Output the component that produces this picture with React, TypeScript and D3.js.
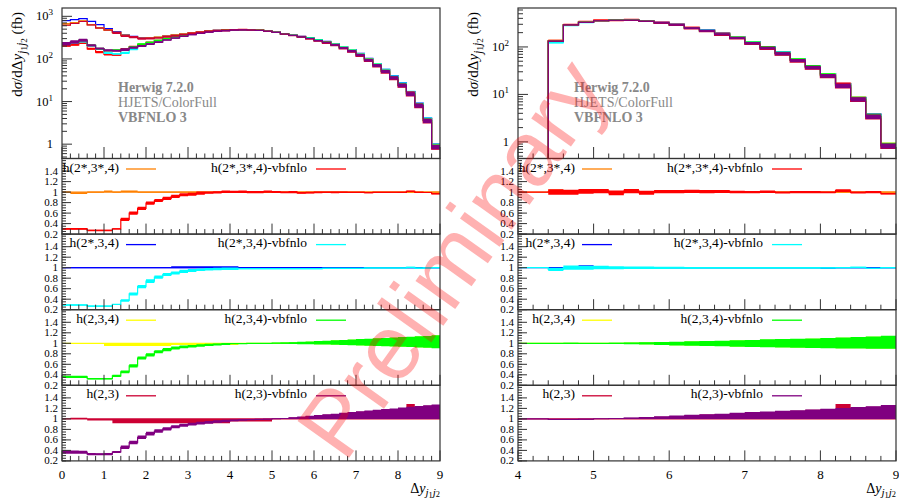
import React from 'react'
import * as d3 from 'd3'

// ---------- bin edges (Δy j1j2) ----------
const L_EDGES = [0, 0.2, 0.4, 0.6, 0.8, 1, 1.2, 1.4, 1.6, 1.8, 2, 2.2, 2.4, 2.6, 2.8, 3, 3.2, 3.4, 3.6, 3.8, 4, 4.2, 4.4, 4.6, 4.8, 5, 5.2, 5.4, 5.6, 5.8, 6, 6.2, 6.4, 6.6, 6.8, 7, 7.2, 7.4, 7.6, 7.8, 8, 8.2, 8.4, 8.6, 8.8, 9]
const R_EDGES = [4, 4.4, 4.6, 4.8, 5, 5.2, 5.4, 5.6, 5.8, 6, 6.2, 6.4, 6.6, 6.8, 7, 7.2, 7.4, 7.6, 7.8, 8, 8.2, 8.4, 8.6, 8.8, 9]

// ---------- left column: main histograms (fb) ----------
const L_MAIN_ORANGE = [674, 711, 785, 640, 535, 470, 410, 352, 325, 308, 310, 322, 342, 363, 384, 410, 432, 453, 467, 478, 486, 489, 484, 475, 455, 425, 392, 362, 340, 312, 282, 256, 225, 193, 164, 133, 101, 77, 56, 39.5, 26.6, 16.8, 9.0, 4.0, 1.0]
const L_MAIN_BLUE = [791, 836, 883, 763, 638, 514, 440, 371, 339, 316, 312, 322, 342, 363, 384, 410, 432, 453, 467, 478, 486, 489, 484, 475, 455, 428, 394, 364, 341, 314, 284, 257, 226, 195, 166, 135, 103, 78, 57, 40, 27.3, 17.2, 9.2, 4.1, 1.0]
const L_MAIN_YELLOW = [625, 688, 760, 638, 538, 485, 422, 360, 336, 310, 312, 324, 344, 365, 386, 413, 435, 456, 469, 480, 488, 490, 484, 474, 452, 421, 386, 356, 330, 302, 270, 244, 215, 182, 153, 123, 94, 70.5, 50.5, 35.8, 23.9, 14.9, 8.0, 3.5, 0.85]
const L_MAIN_CRIMSON = [619, 682, 758, 633, 535, 480, 420, 359, 335, 309, 311, 323, 343, 364, 385, 412, 434, 455, 468, 479, 487, 489, 483, 473, 451, 419, 382, 350, 323, 293, 260, 233, 204, 172, 144, 115, 87, 65, 46.6, 32.7, 21.7, 13.5, 7.2, 3.15, 0.76]

// ---------- left column: ratio bands (low / high) ----------
const L_ORANGE_LO = [0.99, 0.965, 0.965, 0.99, 0.99, 1.0, 0.99, 1.0, 1.0, 0.99, 0.99, 0.99, 0.99, 0.99, 0.99, 0.99, 0.99, 0.99, 0.99, 0.99, 0.99, 0.99, 0.99, 0.99, 0.99, 0.99, 0.99, 0.99, 0.99, 0.99, 0.99, 0.99, 0.99, 0.99, 0.99, 0.99, 0.99, 0.99, 0.99, 0.99, 0.99, 0.99, 0.99, 0.99, 0.99]
const L_ORANGE_HI = [1.01, 0.995, 0.995, 1.01, 1.01, 1.03, 1.01, 1.03, 1.03, 1.01, 1.01, 1.01, 1.01, 1.01, 1.01, 1.01, 1.01, 1.01, 1.01, 1.01, 1.01, 1.01, 1.01, 1.01, 1.01, 1.01, 1.01, 1.01, 1.01, 1.01, 1.01, 1.01, 1.01, 1.01, 1.01, 1.01, 1.01, 1.01, 1.01, 1.01, 1.01, 1.01, 1.01, 1.01, 1.01]
const L_RED_LO = [0.285, 0.285, 0.285, 0.255, 0.255, 0.255, 0.29, 0.45, 0.57, 0.66, 0.76, 0.81, 0.85, 0.89, 0.92, 0.93, 0.95, 0.97, 0.975, 0.985, 0.985, 0.985, 0.98, 0.98, 0.99, 0.985, 0.98, 0.98, 0.97, 0.975, 0.98, 0.985, 0.98, 0.985, 0.985, 0.985, 0.98, 0.985, 0.985, 0.99, 0.985, 1.0, 0.985, 0.985, 0.955]
const L_RED_HI = [0.315, 0.315, 0.315, 0.285, 0.285, 0.285, 0.31, 0.51, 0.63, 0.72, 0.82, 0.87, 0.91, 0.95, 0.98, 0.99, 1.01, 1.01, 1.015, 1.03, 1.025, 1.03, 1.02, 1.02, 1.03, 1.02, 1.01, 1.02, 1.0, 1.005, 1.01, 1.01, 1.01, 1.01, 1.005, 1.005, 1.0, 1.005, 1.005, 1.005, 1.005, 1.03, 1.005, 1.0, 0.985]
const L_BLUE_LO = [0.99, 0.99, 0.99, 0.99, 0.99, 0.99, 0.99, 0.99, 0.99, 0.99, 0.99, 0.99, 0.99, 0.99, 0.99, 0.99, 0.99, 0.99, 0.99, 0.99, 0.99, 0.99, 0.99, 0.99, 0.99, 0.99, 0.99, 0.99, 0.99, 0.99, 0.99, 0.99, 0.99, 0.99, 0.99, 0.99, 0.99, 0.99, 0.99, 0.99, 0.99, 0.99, 0.99, 0.99, 0.99]
const L_BLUE_HI = [1.01, 1.01, 1.01, 1.01, 1.01, 1.01, 1.01, 1.01, 1.01, 1.01, 1.01, 1.01, 1.01, 1.03, 1.03, 1.03, 1.03, 1.03, 1.03, 1.03, 1.03, 1.01, 1.01, 1.01, 1.01, 1.01, 1.01, 1.01, 1.01, 1.01, 1.01, 1.01, 1.01, 1.01, 1.01, 1.01, 1.01, 1.01, 1.01, 1.01, 1.01, 1.01, 1.01, 1.01, 1.01]
const L_CYAN_LO = [0.275, 0.275, 0.275, 0.255, 0.255, 0.255, 0.29, 0.35, 0.47, 0.61, 0.71, 0.79, 0.84, 0.87, 0.9, 0.92, 0.935, 0.945, 0.95, 0.955, 0.955, 0.97, 0.97, 0.97, 0.97, 0.97, 0.97, 0.97, 0.97, 0.97, 0.97, 0.975, 0.975, 0.975, 0.975, 0.975, 0.985, 0.985, 0.985, 0.985, 0.985, 0.99, 0.98, 0.985, 0.99]
const L_CYAN_HI = [0.305, 0.305, 0.305, 0.28, 0.28, 0.28, 0.31, 0.4, 0.53, 0.67, 0.78, 0.85, 0.9, 0.93, 0.96, 0.975, 0.985, 0.995, 1.0, 1.005, 1.005, 0.995, 0.995, 0.995, 0.995, 0.995, 0.995, 0.995, 0.995, 0.995, 0.995, 1.0, 1.0, 1.0, 1.0, 1.0, 1.005, 1.005, 1.005, 1.005, 1.005, 1.02, 1.005, 1.01, 1.015]
const L_YELLOW_LO = [0.995, 0.995, 0.995, 0.995, 0.995, 0.95, 0.95, 0.95, 0.95, 0.95, 0.95, 0.95, 0.95, 0.97, 0.97, 0.97, 0.97, 0.97, 0.97, 0.97, 0.97, 0.985, 0.985, 0.985, 0.985, 1.0, 0.995, 0.992, 0.989, 0.986, 0.983, 0.98, 0.977, 0.973, 0.969, 0.965, 0.96, 0.955, 0.95, 0.945, 0.94, 0.933, 0.927, 0.92, 0.912]
const L_YELLOW_HI = [1.005, 1.005, 1.005, 1.005, 1.005, 1.0, 1.0, 1.0, 1.0, 1.0, 1.0, 1.0, 1.0, 1.0, 1.0, 1.0, 1.0, 1.0, 1.0, 1.0, 1.0, 1.0, 1.0, 1.0, 1.0, 1.005, 1.01, 1.015, 1.023, 1.03, 1.037, 1.045, 1.052, 1.06, 1.067, 1.075, 1.082, 1.09, 1.097, 1.105, 1.113, 1.12, 1.128, 1.135, 1.15]
const L_GREEN_LO = [0.34, 0.34, 0.34, 0.31, 0.31, 0.31, 0.36, 0.43, 0.54, 0.69, 0.75, 0.81, 0.85, 0.88, 0.905, 0.92, 0.935, 0.948, 0.958, 0.968, 0.985, 0.99, 0.995, 0.995, 0.997, 0.995, 0.99, 0.987, 0.984, 0.981, 0.978, 0.975, 0.972, 0.968, 0.964, 0.96, 0.955, 0.95, 0.945, 0.94, 0.935, 0.928, 0.922, 0.915, 0.907]
const L_GREEN_HI = [0.38, 0.38, 0.38, 0.34, 0.34, 0.34, 0.4, 0.48, 0.6, 0.75, 0.81, 0.87, 0.91, 0.94, 0.96, 0.97, 0.982, 0.99, 0.998, 1.005, 1.0, 1.0, 1.005, 1.005, 1.003, 1.01, 1.015, 1.02, 1.028, 1.035, 1.042, 1.05, 1.057, 1.065, 1.072, 1.08, 1.087, 1.095, 1.102, 1.11, 1.118, 1.125, 1.133, 1.14, 1.155]
const L_CRIMSON_LO = [1.0, 1.0, 1.0, 0.97, 0.97, 0.97, 0.915, 0.915, 0.915, 0.915, 0.915, 0.915, 0.915, 0.915, 0.915, 0.915, 0.915, 0.915, 0.915, 0.915, 0.95, 0.95, 0.95, 0.95, 0.95, 1.0, 1.0, 1.0, 1.0, 1.0, 1.0, 1.0, 1.0, 1.0, 1.0, 1.0, 1.0, 1.0, 1.0, 1.0, 1.0, 1.0, 1.0, 1.0, 1.0]
const L_CRIMSON_HI = [1.01, 1.02, 1.02, 1.0, 1.0, 1.0, 1.0, 1.0, 1.0, 1.0, 1.0, 1.0, 1.0, 1.0, 1.0, 1.0, 1.0, 1.0, 1.0, 1.0, 1.0, 1.0, 1.0, 1.0, 1.0, 1.0, 1.006, 1.02, 1.035, 1.05, 1.065, 1.08, 1.09, 1.105, 1.12, 1.135, 1.15, 1.165, 1.18, 1.19, 1.205, 1.285, 1.235, 1.25, 1.265]
const L_PURPLE_LO = [0.335, 0.335, 0.335, 0.31, 0.31, 0.31, 0.35, 0.425, 0.515, 0.615, 0.685, 0.735, 0.78, 0.82, 0.85, 0.873, 0.895, 0.91, 0.925, 0.935, 0.955, 0.968, 0.98, 0.986, 0.995, 1.0, 1.0, 1.0, 1.0, 1.0, 1.0, 1.0, 1.0, 1.0, 1.0, 1.0, 1.0, 1.0, 1.0, 1.0, 1.0, 1.0, 1.0, 1.0, 1.0]
const L_PURPLE_HI = [0.405, 0.4, 0.395, 0.35, 0.345, 0.35, 0.39, 0.495, 0.585, 0.685, 0.755, 0.805, 0.84, 0.88, 0.91, 0.927, 0.945, 0.96, 0.975, 0.985, 0.988, 0.992, 0.995, 0.997, 1.0, 1.006, 1.016, 1.03, 1.045, 1.06, 1.075, 1.09, 1.1, 1.115, 1.13, 1.145, 1.16, 1.175, 1.19, 1.2, 1.215, 1.23, 1.245, 1.26, 1.275]

// ---------- right column: main histograms (fb) ----------
const R_MAIN_ORANGE = [0, 135, 296, 336, 360, 372, 372, 356, 328, 298, 256, 226, 194, 164, 128, 101, 77, 56, 40, 27, 16.6, 8.7, 3.8, 0.93]
const R_MAIN_BLUE = [0, 127, 285, 330, 356, 370, 372, 356, 328, 298, 256, 226, 194, 164, 128, 102, 78, 56.5, 40.5, 27.5, 16.6, 8.6, 3.85, 0.92]
const R_MAIN_YELLOW = [0, 133, 292, 333, 358, 368, 368, 350, 322, 293, 250, 218, 186, 157, 122, 97, 73, 53, 38, 25.3, 15.4, 8.0, 3.45, 0.84]
const R_MAIN_CRIMSON = [0, 133, 293, 332, 355, 365, 363, 344, 314, 283, 240, 209, 176, 147, 113, 89, 67, 48, 34, 22.5, 13.7, 7.1, 3.04, 0.73]

// ---------- right column: ratio bands (low / high) ----------
const R_ORANGE_LO = [1, 1.0, 0.99, 0.99, 0.99, 0.99, 0.99, 0.99, 0.99, 0.99, 0.99, 0.99, 0.99, 0.99, 0.99, 0.99, 0.99, 0.99, 0.99, 0.99, 0.99, 0.99, 0.99, 0.99]
const R_ORANGE_HI = [1, 1.05, 1.01, 1.01, 1.01, 1.01, 1.01, 1.01, 1.01, 1.01, 1.01, 1.01, 1.01, 1.01, 1.01, 1.01, 1.01, 1.01, 1.01, 1.01, 1.01, 1.01, 1.01, 1.01]
const R_RED_LO = [1, 0.95, 0.95, 0.97, 0.98, 0.94, 0.98, 0.95, 0.98, 0.98, 0.985, 0.98, 0.985, 0.98, 0.98, 0.985, 0.975, 0.98, 0.98, 0.98, 1.0, 0.975, 0.98, 0.955]
const R_RED_HI = [1, 1.055, 1.045, 1.057, 1.057, 1.03, 1.057, 1.025, 1.04, 1.04, 1.045, 1.04, 1.04, 1.025, 1.02, 1.03, 1.01, 1.02, 1.02, 1.01, 1.055, 1.01, 1.02, 0.985]
const R_BLUE_LO = [1, 0.99, 0.99, 1.0, 0.99, 0.99, 0.99, 0.99, 0.99, 0.99, 0.99, 0.99, 0.99, 0.99, 0.99, 0.99, 0.99, 0.99, 0.99, 0.98, 0.99, 0.99, 0.99, 0.99]
const R_BLUE_HI = [1, 1.01, 1.01, 1.045, 1.01, 1.01, 1.01, 1.01, 1.01, 1.01, 1.01, 1.01, 1.01, 1.01, 1.01, 1.01, 1.01, 1.01, 1.01, 1.0, 1.01, 1.01, 1.01, 1.01]
const R_CYAN_LO = [1, 0.935, 0.96, 0.96, 0.97, 0.97, 0.975, 0.975, 0.975, 0.98, 0.98, 0.985, 0.985, 0.985, 0.985, 0.985, 0.985, 0.985, 0.985, 0.985, 0.99, 0.99, 0.98, 0.99]
const R_CYAN_HI = [1, 1.0, 1.04, 1.035, 1.035, 1.03, 1.025, 1.025, 1.02, 1.02, 1.015, 1.012, 1.012, 1.012, 1.012, 1.012, 1.012, 1.012, 1.012, 1.01, 1.015, 1.02, 1.0, 1.01]
const R_YELLOW_LO = [1, 0.998, 0.995, 0.995, 0.995, 0.99, 0.985, 0.98, 0.975, 0.965, 0.96, 0.955, 0.95, 0.94, 0.935, 0.93, 0.925, 0.92, 0.915, 0.91, 0.905, 0.905, 0.9, 0.9]
const R_YELLOW_HI = [1, 1.002, 1.005, 1.0, 1.0, 1.005, 1.01, 1.015, 1.02, 1.025, 1.035, 1.04, 1.045, 1.055, 1.06, 1.07, 1.075, 1.08, 1.085, 1.095, 1.105, 1.115, 1.125, 1.14]
const R_GREEN_LO = [1, 0.995, 0.99, 0.99, 0.99, 0.985, 0.98, 0.975, 0.97, 0.96, 0.955, 0.95, 0.945, 0.935, 0.93, 0.925, 0.92, 0.915, 0.91, 0.905, 0.9, 0.9, 0.895, 0.895]
const R_GREEN_HI = [1, 1.005, 1.01, 1.005, 1.005, 1.01, 1.015, 1.02, 1.025, 1.03, 1.04, 1.045, 1.05, 1.06, 1.065, 1.075, 1.08, 1.085, 1.09, 1.1, 1.11, 1.12, 1.13, 1.145]
const R_CRIMSON_LO = [1, 0.99, 0.99, 0.99, 1.0, 1.0, 1.0, 1.0, 1.0, 1.0, 1.0, 1.0, 1.0, 1.0, 1.0, 1.0, 1.0, 1.0, 1.0, 1.0, 1.0, 1.0, 1.0, 1.0]
const R_CRIMSON_HI = [1, 1.0, 1.0, 1.0, 1.0, 1.008, 1.018, 1.028, 1.042, 1.057, 1.072, 1.082, 1.092, 1.107, 1.122, 1.132, 1.147, 1.157, 1.172, 1.187, 1.285, 1.217, 1.232, 1.257]
const R_PURPLE_LO = [1, 0.985, 0.98, 0.99, 1.0, 1.0, 1.0, 1.0, 1.0, 1.0, 1.0, 1.0, 1.0, 1.0, 1.0, 1.0, 1.0, 1.0, 1.0, 1.0, 1.0, 1.0, 1.0, 1.0]
const R_PURPLE_HI = [1, 1.0, 1.0, 1.0, 1.005, 1.015, 1.025, 1.035, 1.05, 1.065, 1.08, 1.09, 1.1, 1.115, 1.13, 1.14, 1.155, 1.165, 1.18, 1.195, 1.21, 1.225, 1.24, 1.265]

const LABELS = [
  ['h(2*,3*,4)', 'h(2*,3*,4)-vbfnlo'],
  ['h(2*,3,4)', 'h(2*,3,4)-vbfnlo'],
  ['h(2,3,4)', 'h(2,3,4)-vbfnlo'],
  ['h(2,3)', 'h(2,3)-vbfnlo'],
]
const COLORS = [
  ['#ff8000', '#ff0000'],
  ['#0000ff', '#00ffff'],
  ['#ffff00', '#00ff00'],
  ['#cc0033', '#800080'],
]

const FONT = "'Liberation Serif', 'DejaVu Serif', serif"
const AXIS = '#333'
const MAIN_TOP = 8
const MAIN_BOTTOM = 158.5
const RATIO_H = 75.6
const RATIO_DOMAIN: [number, number] = [0.2, 1.64]

type Band = { lo: number[]; hi: number[] }
type Pair = { main: number[]; base: Band; vbf: Band }
type Column = { id: string; x0: number; x1: number; edges: number[]; yDomain: [number, number]; pairs: Pair[] }

const COLUMNS: Column[] = [
  {
    id: 'l', x0: 62, x1: 440, edges: L_EDGES, yDomain: [0.461, 1567],
    pairs: [
      { main: L_MAIN_ORANGE, base: { lo: L_ORANGE_LO, hi: L_ORANGE_HI }, vbf: { lo: L_RED_LO, hi: L_RED_HI } },
      { main: L_MAIN_BLUE, base: { lo: L_BLUE_LO, hi: L_BLUE_HI }, vbf: { lo: L_CYAN_LO, hi: L_CYAN_HI } },
      { main: L_MAIN_YELLOW, base: { lo: L_YELLOW_LO, hi: L_YELLOW_HI }, vbf: { lo: L_GREEN_LO, hi: L_GREEN_HI } },
      { main: L_MAIN_CRIMSON, base: { lo: L_CRIMSON_LO, hi: L_CRIMSON_HI }, vbf: { lo: L_PURPLE_LO, hi: L_PURPLE_HI } },
    ],
  },
  {
    id: 'r', x0: 518, x1: 896, edges: R_EDGES, yDomain: [0.447, 661],
    pairs: [
      { main: R_MAIN_ORANGE, base: { lo: R_ORANGE_LO, hi: R_ORANGE_HI }, vbf: { lo: R_RED_LO, hi: R_RED_HI } },
      { main: R_MAIN_BLUE, base: { lo: R_BLUE_LO, hi: R_BLUE_HI }, vbf: { lo: R_CYAN_LO, hi: R_CYAN_HI } },
      { main: R_MAIN_YELLOW, base: { lo: R_YELLOW_LO, hi: R_YELLOW_HI }, vbf: { lo: R_GREEN_LO, hi: R_GREEN_HI } },
      { main: R_MAIN_CRIMSON, base: { lo: R_CRIMSON_LO, hi: R_CRIMSON_HI }, vbf: { lo: R_PURPLE_LO, hi: R_PURPLE_HI } },
    ],
  },
]

const Sub = () => (
  <>
    <tspan fontStyle="italic" fontSize="0.8em" dy="0.3em">j</tspan>
    <tspan fontSize="0.6em" dy="0.15em">1</tspan>
    <tspan fontStyle="italic" fontSize="0.8em" dy="-0.15em">j</tspan>
    <tspan fontSize="0.6em" dy="0.15em">2</tspan>
  </>
)

function ColumnPlot({ col }: { col: Column }) {
  const { x0, x1, edges } = col
  const n = edges.length - 1
  const x = d3.scaleLinear().domain([edges[0], edges[n]]).range([x0, x1])
  const yMain = d3.scaleLog().domain(col.yDomain).range([MAIN_BOTTOM, MAIN_TOP]).clamp(true)
  const ym = (v: number) => yMain(Math.max(v, 1e-3))

  const pts = (vals: number[]) => edges.map((e, i) => [e, vals[Math.min(i, n - 1)]] as [number, number])
  const bandPts = (lo: number[], hi: number[]) =>
    edges.map((e, i) => [e, lo[Math.min(i, n - 1)], hi[Math.min(i, n - 1)]] as [number, number, number])
  const line = (y: (v: number) => number) =>
    d3.line<[number, number]>().x(d => x(d[0])).y(d => y(d[1])).curve(d3.curveStepAfter)
  const area = (y: (v: number) => number) =>
    d3.area<[number, number, number]>().x(d => x(d[0])).y0(d => y(d[1])).y1(d => y(d[2])).curve(d3.curveStepAfter)

  const xMajor = x.ticks(10).filter(t => Number.isInteger(t))
  const xMinor = d3.range(Math.round(edges[0] * 5), Math.round(edges[n] * 5) + 1).map(k => k / 5)
    .filter(t => !xMajor.includes(t))

  const xTicks = (bottom: number, major: number) => (
    <g stroke={AXIS} strokeWidth={1}>
      {xMinor.map(t => <line key={'m' + t} x1={x(t)} x2={x(t)} y1={bottom} y2={bottom - 5} />)}
      {xMajor.map(t => <line key={'M' + t} x1={x(t)} x2={x(t)} y1={bottom} y2={bottom - major} />)}
    </g>
  )

  // main panel
  const mainTicks = yMain.ticks()
  const isDecade = (t: number) => Math.abs(Math.log10(t) - Math.round(Math.log10(t))) < 1e-9
  const mainSeries: JSX.Element[] = []
  col.pairs.forEach((p, k) => {
    const baseLo = p.main.map((v, i) => v * p.base.lo[i])
    const baseHi = p.main.map((v, i) => v * p.base.hi[i])
    const vLo = p.main.map((v, i) => v * p.vbf.lo[i])
    const vHi = p.main.map((v, i) => v * p.vbf.hi[i])
    const vMid = p.main.map((v, i) => v * (p.vbf.lo[i] + p.vbf.hi[i]) / 2)
    mainSeries.push(
      <g key={'b' + k}>
        <path d={area(ym)(bandPts(baseLo, baseHi)) || ''} fill={COLORS[k][0]} />
        <path d={line(ym)(pts(p.main)) || ''} fill="none" stroke={COLORS[k][0]} strokeWidth={1.2} />
      </g>,
      <g key={'v' + k}>
        <path d={area(ym)(bandPts(vLo, vHi)) || ''} fill={COLORS[k][1]} />
        <path d={line(ym)(pts(vMid)) || ''} fill="none" stroke={COLORS[k][1]} strokeWidth={1.2} />
      </g>,
    )
  })

  const textX = x0 + 56
  return (
    <g>
      <defs>
        <clipPath id={`clip-${col.id}-main`}>
          <rect x={x0} y={MAIN_TOP} width={x1 - x0} height={MAIN_BOTTOM - MAIN_TOP} />
        </clipPath>
        {col.pairs.map((_, k) => (
          <clipPath key={k} id={`clip-${col.id}-${k}`}>
            <rect x={x0} y={MAIN_BOTTOM + k * RATIO_H} width={x1 - x0} height={RATIO_H} />
          </clipPath>
        ))}
      </defs>

      <g clipPath={`url(#clip-${col.id}-main)`}>{mainSeries}</g>

      <g stroke={AXIS} strokeWidth={1}>
        {mainTicks.map(t => (
          <line key={t} x1={x0} x2={x0 + (isDecade(t) ? 10 : 5)} y1={yMain(t)} y2={yMain(t)} />
        ))}
      </g>
      {mainTicks.filter(isDecade).map(t => {
        const e = Math.round(Math.log10(t))
        return (
          <text key={t} x={x0 - 9} y={yMain(t) + 4} textAnchor="end" fontSize={12.5}>
            {e === 0 ? '1' : (<><tspan>10</tspan><tspan dy={-5} fontSize={9}>{e}</tspan></>)}
          </text>
        )
      })}
      {xTicks(MAIN_BOTTOM, 11.5)}

      <g fontSize={14} fill="#888">
        <text x={textX} y={92} fontWeight="bold">Herwig 7.2.0</text>
        <text x={textX} y={107}>HJETS/ColorFull</text>
        <text x={textX} y={122} fontWeight="bold">VBFNLO 3</text>
      </g>

      <text transform={`translate(${x0 - 40},${MAIN_TOP + 4}) rotate(-90)`} textAnchor="end" fontSize={15}>
        d<tspan fontStyle="italic">σ</tspan>/dΔ<tspan fontStyle="italic">y</tspan><Sub /><tspan dy="-0.3em"> (fb)</tspan>
      </text>

      <rect x={x0} y={MAIN_TOP} width={x1 - x0} height={MAIN_BOTTOM - MAIN_TOP} fill="none" stroke={AXIS} strokeWidth={1.2} />

      {col.pairs.map((p, k) => {
        const top = MAIN_BOTTOM + k * RATIO_H
        const bottom = top + RATIO_H
        const yR = d3.scaleLinear().domain(RATIO_DOMAIN).range([bottom, top])
        const ones = p.main.map(() => 1)
        const vMid = p.vbf.lo.map((v, i) => (v + p.vbf.hi[i]) / 2)
        const rMajor = d3.range(1, 8).map(i => i / 5)
        const rMinor = d3.range(4, 33).map(i => i / 20)
        return (
          <g key={k}>
            <g clipPath={`url(#clip-${col.id}-${k})`}>
              <path d={area(yR)(bandPts(p.base.lo, p.base.hi)) || ''} fill={COLORS[k][0]} />
              <path d={line(yR)(pts(ones)) || ''} fill="none" stroke={COLORS[k][0]} strokeWidth={1.2} />
              <path d={area(yR)(bandPts(p.vbf.lo, p.vbf.hi)) || ''} fill={COLORS[k][1]} />
              <path d={line(yR)(pts(vMid)) || ''} fill="none" stroke={COLORS[k][1]} strokeWidth={1.2} />
            </g>
            <g stroke={AXIS} strokeWidth={1}>
              {rMinor.map(t => <line key={'m' + t} x1={x0} x2={x0 + 4} y1={yR(t)} y2={yR(t)} />)}
              {rMajor.map(t => <line key={'M' + t} x1={x0} x2={x0 + 9} y1={yR(t)} y2={yR(t)} />)}
            </g>
            {rMajor.map(t => (
              <text key={t} x={x0 - 4} y={yR(t) + 3.5} textAnchor="end" fontSize={11}>{String(+t.toFixed(1))}</text>
            ))}
            {xTicks(bottom, 10.5)}
            <g fontSize={13.5}>
              <text x={x0 + 57} y={top + 13} textAnchor="end">{LABELS[k][0]}</text>
              <line x1={x0 + 64} x2={x0 + 94} y1={top + 10.5} y2={top + 10.5} stroke={COLORS[k][0]} strokeWidth={1.3} />
              <text x={x0 + 245} y={top + 13} textAnchor="end">{LABELS[k][1]}</text>
              <line x1={x0 + 254} x2={x0 + 284} y1={top + 10.5} y2={top + 10.5} stroke={COLORS[k][1]} strokeWidth={1.3} />
            </g>
            <rect x={x0} y={top} width={x1 - x0} height={RATIO_H} fill="none" stroke={AXIS} strokeWidth={1.2} />
            {k === col.pairs.length - 1 && (
              <g>
                {xMajor.map(t => (
                  <text key={t} x={x(t)} y={bottom + 18} textAnchor="middle" fontSize={13}>{t}</text>
                ))}
                <text x={x1} y={493} textAnchor="end" fontSize={14}>
                  Δ<tspan fontStyle="italic">y</tspan><Sub />
                </text>
              </g>
            )}
          </g>
        )
      })}
    </g>
  )
}

export default function App() {
  return (
    <svg width={899} height={500} fontFamily={FONT}
      style={{ position: 'absolute', left: 0, top: 0, display: 'block', background: '#fff' }}>
      <rect width={899} height={500} fill="#fff" />
      {COLUMNS.map(c => <ColumnPlot key={c.id} col={c} />)}
      <text transform="translate(452,258) rotate(-54.5)" textAnchor="middle" dy="0.35em"
        fontFamily="'Liberation Sans', Arial, sans-serif" fontSize={92} fill="#ff0000" opacity={0.3}>
        Preliminary
      </text>
    </svg>
  )
}
